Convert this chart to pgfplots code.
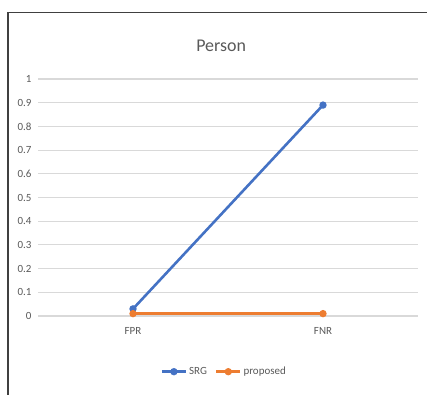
\documentclass[border=0pt]{standalone}
\usepackage{pgfplots}
\pgfplotsset{compat=1.18}
\usepackage{fontspec}
\setmainfont{Carlito}
\definecolor{srgblue}{HTML}{4472C4}
\definecolor{proporange}{HTML}{ED7D31}
\definecolor{txtgray}{HTML}{595959}
\definecolor{gridgray}{HTML}{D9D9D9}
\begin{document}
\begin{tikzpicture}[x=1bp,y=1bp]
\useasboundingbox (0,0) rectangle (427,395);
% chart frame (left and top edges)
\draw[line width=1.6bp, black!75] (8,0) -- (8,382.5) -- (427,382.5);
\begin{axis}[
  at={(38bp,79bp)}, anchor=south west,
  scale only axis, width=380bp, height=237bp,
  xmin=-0.5, xmax=1.5, ymin=0, ymax=1,
  axis line style={draw=none},
  xtick={0,1}, xticklabels={FPR,FNR},
  ytick={0,0.1,...,1},
  yticklabels={0,0.1,0.2,0.3,0.4,0.5,0.6,0.7,0.8,0.9,1},
  /pgf/number format/assume math mode=true,
  major tick length=0pt,
  ymajorgrids, grid style={gridgray, line width=1.1bp},
  tick label style={font=\fontsize{11}{12}\selectfont, text=txtgray},
  yticklabel style={xshift=-3bp},
  xticklabel style={yshift=-8bp},
  title={Person},
  title style={font=\fontsize{18}{20}\selectfont, text=txtgray, at={(0.482,1.0)}, yshift=18bp},
  legend columns=2,
  legend style={at={(0.49,-0.235)}, anchor=center, draw=none, fill=none,
    font=\fontsize{11}{12}\selectfont, text=txtgray, inner sep=0pt,
    /tikz/every even column/.append style={column sep=6bp}},
  legend image code/.code={
    \draw[#1, mark=none] (0bp,0bp) -- (24bp,0bp);
    \fill[#1] (12bp,0bp) circle (2.3bp);
  },
  legend cell align=left,
]
\addplot[srgblue, line width=2.6bp, mark=*, mark size=2.3bp, mark options={fill=srgblue, draw=srgblue}]
  coordinates {(0,0.03) (1,0.89)};
\addlegendentry{SRG}
\addplot[proporange, line width=2.6bp, mark=*, mark size=2.3bp, mark options={fill=proporange, draw=proporange}]
  coordinates {(0,0.01) (1,0.01)};
\addlegendentry{proposed}
\end{axis}
\end{tikzpicture}
\end{document}
